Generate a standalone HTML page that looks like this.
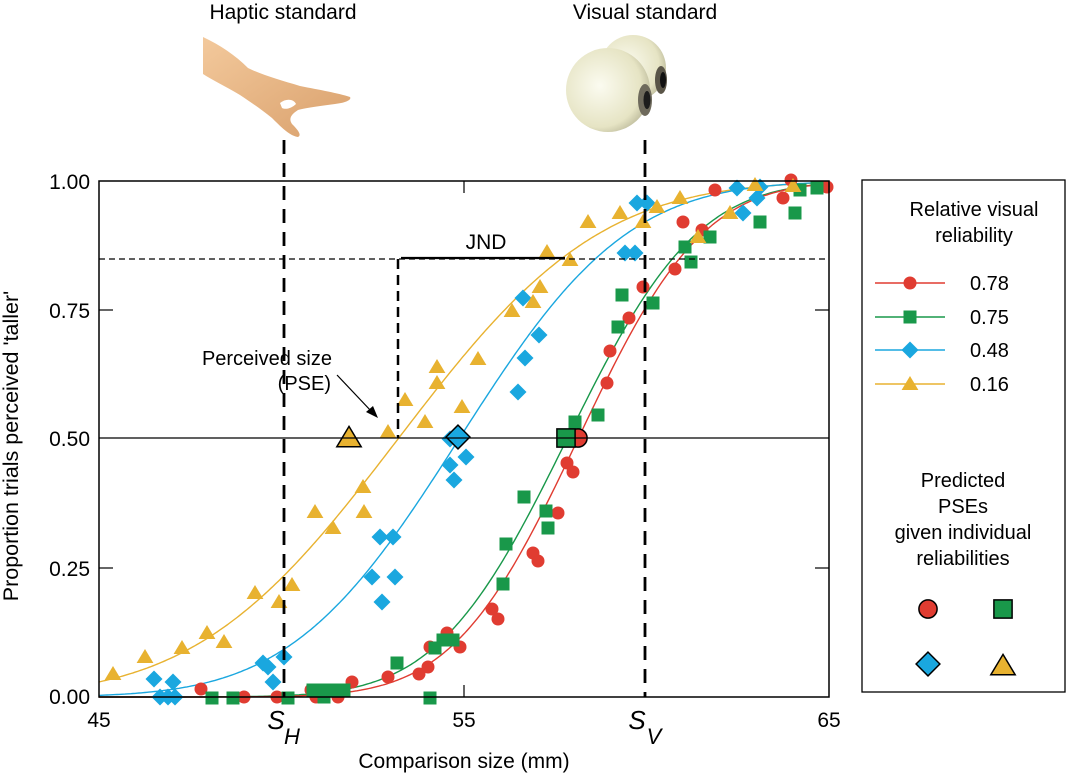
<!DOCTYPE html>
<html><head><meta charset="utf-8"><style>
html,body{margin:0;padding:0;background:#fff}
svg{display:block;font-family:"Liberation Sans",Arial,sans-serif}
</style></head><body>
<svg id="s" width="1077" height="774" viewBox="0 0 1077 774" xmlns="http://www.w3.org/2000/svg">
<defs>
<radialGradient id="eg" cx="0.4" cy="0.45" r="0.7"><stop offset="0" stop-color="#fbfbf0"/><stop offset="0.7" stop-color="#e6e4c4"/><stop offset="1" stop-color="#a9a788"/></radialGradient>
<linearGradient id="hg" x1="0" y1="0" x2="1" y2="1"><stop offset="0" stop-color="#f3c99c"/><stop offset="1" stop-color="#d9a06c"/></linearGradient>
</defs>
<text x="283" y="19" font-size="21" text-anchor="middle">Haptic standard</text>
<text x="645" y="19" font-size="21" text-anchor="middle">Visual standard</text>
<path d="M203 37 C220 45 235 55 248 68 C262 75 280 80 300 86 C320 90 338 93 350 97 C352 100 345 103 335 104 C320 106 305 108 298 110 C292 114 288 118 292 124 C298 130 302 135 298 137 C290 136 282 128 272 118 C262 110 252 103 240 95 C225 86 212 80 203 74 Z" fill="url(#hg)"/>
<path d="M280 103 C286 98 294 99 296 104 C292 108 286 110 282 108 Z" fill="#fff"/>
<circle cx="633" cy="68" r="33" fill="url(#eg)"/>
<ellipse cx="661" cy="80" rx="6" ry="14" fill="#5a5548"/><ellipse cx="663" cy="80" rx="3" ry="8" fill="#111"/>
<circle cx="608" cy="90" r="42" fill="url(#eg)"/>
<ellipse cx="645" cy="100" rx="7" ry="16" fill="#6e6a5c"/><ellipse cx="647" cy="100" rx="3.5" ry="9" fill="#1c1c1c"/>
<g id="plot"></g>
<rect x="99" y="181" width="730" height="516" fill="none" stroke="#000" stroke-width="1.5"/>
<g stroke="#000" stroke-width="1.2">
<line x1="99" y1="310" x2="113" y2="310"/><line x1="99" y1="568" x2="113" y2="568"/>
<line x1="829" y1="310" x2="815" y2="310"/><line x1="829" y1="568" x2="815" y2="568"/>
<line x1="464" y1="697" x2="464" y2="685"/><line x1="464" y1="181" x2="464" y2="193"/>
</g>
<line x1="99" y1="438" x2="829" y2="438" stroke="#000" stroke-width="1.3"/>
<line x1="99" y1="259" x2="829" y2="259" stroke="#000" stroke-width="1.2" stroke-dasharray="6,4"/>
<line x1="398" y1="259" x2="398" y2="438" stroke="#000" stroke-width="2.5" stroke-dasharray="10,6"/>
<line x1="401" y1="258" x2="565" y2="258" stroke="#000" stroke-width="2.2"/>
<text x="486" y="249" font-size="21" text-anchor="middle">JND</text>
<line x1="284" y1="140" x2="284" y2="697" stroke="#000" stroke-width="2.8" stroke-dasharray="14,9"/>
<line x1="645" y1="140" x2="645" y2="697" stroke="#000" stroke-width="2.8" stroke-dasharray="14,9"/>
<text x="332" y="365" font-size="20" text-anchor="end">Perceived size</text>
<text x="331" y="390" font-size="20" text-anchor="end">(PSE)</text>
<line x1="337" y1="375" x2="372" y2="412" stroke="#000" stroke-width="1.2"/>
<path d="M378 418 L366 412 L373 406 Z" fill="#000"/>
<g font-size="21" text-anchor="end">
<text x="90" y="189">1.00</text><text x="90" y="318">0.75</text><text x="90" y="446">0.50</text><text x="90" y="576">0.25</text><text x="90" y="704">0.00</text>
</g>
<g font-size="21" text-anchor="middle">
<text x="99" y="727">45</text><text x="464" y="727">55</text><text x="829" y="727">65</text>
<text x="464" y="768">Comparison size (mm)</text>
</g>
<text x="276" y="729" font-size="26" font-style="italic" text-anchor="middle">S</text><text x="292" y="744" font-size="22" font-style="italic" text-anchor="middle">H</text>
<text x="637" y="729" font-size="26" font-style="italic" text-anchor="middle">S</text><text x="654" y="744" font-size="22" font-style="italic" text-anchor="middle">V</text>
<text transform="translate(18,446) rotate(-90)" font-size="21.5" text-anchor="middle">Proportion trials perceived 'taller'</text>
<rect x="862" y="180" width="203" height="512" fill="none" stroke="#000" stroke-width="1.3"/>
<g font-size="20" text-anchor="middle">
<text x="974" y="216">Relative visual</text><text x="974" y="242">reliability</text>
<text x="963" y="487">Predicted</text><text x="963" y="513">PSEs</text><text x="963" y="539">given individual</text><text x="963" y="565">reliabilities</text>
</g>
<g font-size="20"><text x="970" y="290">0.78</text><text x="970" y="324">0.75</text><text x="970" y="357">0.48</text><text x="970" y="391">0.16</text></g>
<g id="leg"></g>
</svg>
<script>
var NS="http://www.w3.org/2000/svg";
var C={r:"#e03c31",g:"#19984a",b:"#1aa7df",y:"#e8b230"};
function erf(x){var s=x<0?-1:1;x=Math.abs(x);var t=1/(1+0.3275911*x);var y=1-(((((1.061405429*t-1.453152027)*t)+1.421413741)*t-0.284496736)*t+0.254829592)*t*Math.exp(-x*x);return s*y;}
function el(n,a,p){var e=document.createElementNS(NS,n);for(var k in a)e.setAttribute(k,a[k]);(p||document.getElementById("plot")).appendChild(e);return e;}
function curve(mu,sg,c){var d="";for(var x=99;x<=829;x+=2){var p=0.5*(1+erf((x-mu)/(sg*Math.SQRT2)));var y=697-516*p;d+=(x==99?"M":"L")+x+" "+y.toFixed(1);}el("path",{d:d,fill:"none",stroke:c,"stroke-width":1.4});}
function mk(t,x,y,c,s,big,p){s=s||1;var a={fill:c};if(big){a.stroke="#000";a["stroke-width"]=1.5;}
 if(t=="r"){a.cx=x;a.cy=y;a.r=6.5*s;el("circle",a,p);}
 else if(t=="g"){a.x=x-6.5*s;a.y=y-6.5*s;a.width=13*s;a.height=13*s;el("rect",a,p);}
 else if(t=="b"){var r=8.5*s;a.points=[x,y-r,x+r,y,x,y+r,x-r,y].join(" ");el("polygon",a,p);}
 else {var r=8*s;a.points=[x,y-r,x+r*1.05,y+r*0.75,x-r*1.05,y+r*0.75].join(" ");el("polygon",a,p);}}
curve(398,158,C.y);curve(459,132,C.b);curve(567,102,C.g);curve(578,98,C.r);
var Y=[[113,674],[145,657],[182,648],[207,633],[224,642],[255,593],[279,602],[292,585],[315,512],[333,528],[363,487],[364,512],[388,432],[405,400],[437,367],[437,383],[425,422],[462,407],[478,359],[512,311],[533,302],[540,287],[547,252],[570,260],[588,222],[620,213],[643,222],[657,207],[680,198],[698,237],[730,213],[755,185],[793,186]];
var B=[[154,679],[160,697],[173,682],[168,697],[175,697],[263,663],[268,667],[273,682],[284,657],[380,537],[393,537],[372,577],[395,577],[382,602],[450,439],[450,465],[454,480],[466,457],[518,392],[525,358],[539,335],[523,298],[625,253],[635,253],[637,203],[647,203],[737,188],[743,213],[757,198],[760,187]];
var G=[[212,698],[233,698],[288,698],[313,690],[322,690],[324,697],[330,690],[336,690],[344,690],[397,663],[430,698],[435,648],[443,640],[453,640],[503,584],[506,544],[524,497],[546,511],[548,528],[575,422],[598,415],[618,327],[622,295],[653,303],[685,247],[691,262],[710,237],[760,222],[795,213],[800,190],[817,188]];
var R=[[201,689],[244,697],[277,697],[311,690],[316,697],[338,697],[352,682],[388,677],[419,674],[428,667],[430,647],[447,633],[460,647],[492,609],[498,619],[533,553],[538,561],[558,513],[567,463],[573,472],[607,383],[610,351],[629,318],[643,287],[675,269],[683,222],[702,230],[715,190],[783,198],[791,180],[827,187]];
R.forEach(function(p){mk("r",p[0],p[1],C.r)});G.forEach(function(p){mk("g",p[0],p[1],C.g)});
B.forEach(function(p){mk("b",p[0],p[1],C.b)});Y.forEach(function(p){mk("y",p[0],p[1],C.y)});
mk("y",349,438,C.y,1.45,1);mk("b",458,437,C.b,1.4,1);mk("r",578,438,C.r,1.4,1);mk("g",566,438,C.g,1.4,1);
var L=document.getElementById("leg");
[["r",283],["g",317],["b",350],["y",384]].forEach(function(e){el("line",{x1:875,y1:e[1],x2:945,y2:e[1],stroke:C[e[0]],"stroke-width":1.4},L);mk(e[0],910,e[1],C[e[0]],1,0,L);});
mk("r",928,609,C.r,1.4,1,L);mk("g",1003,609,C.g,1.4,1,L);mk("b",928,664,C.b,1.4,1,L);mk("y",1003,666,C.y,1.45,1,L);
</script>
</body></html>
